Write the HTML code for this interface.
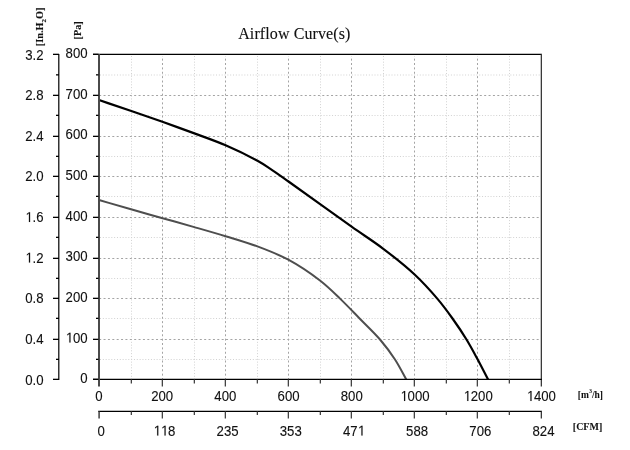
<!DOCTYPE html>
<html><head><meta charset="utf-8"><style>
html,body{margin:0;padding:0;background:#fff;width:630px;height:450px;overflow:hidden;}
body{position:relative;filter:grayscale(1);font-family:"Liberation Sans",sans-serif;}
</style></head><body>
<svg width="630" height="450" viewBox="0 0 630 450" style="position:absolute;left:0;top:0">
<line x1="131.5" y1="56" x2="131.5" y2="379" stroke="#d2d2d2" stroke-width="1" stroke-dasharray="1 1.83"/>
<line x1="194.5" y1="56" x2="194.5" y2="379" stroke="#d2d2d2" stroke-width="1" stroke-dasharray="1 1.83"/>
<line x1="257.5" y1="56" x2="257.5" y2="379" stroke="#d2d2d2" stroke-width="1" stroke-dasharray="1 1.83"/>
<line x1="320.5" y1="56" x2="320.5" y2="379" stroke="#d2d2d2" stroke-width="1" stroke-dasharray="1 1.83"/>
<line x1="383.5" y1="56" x2="383.5" y2="379" stroke="#d2d2d2" stroke-width="1" stroke-dasharray="1 1.83"/>
<line x1="446.5" y1="56" x2="446.5" y2="379" stroke="#d2d2d2" stroke-width="1" stroke-dasharray="1 1.83"/>
<line x1="509.5" y1="56" x2="509.5" y2="379" stroke="#d2d2d2" stroke-width="1" stroke-dasharray="1 1.83"/>
<line x1="100" y1="75.0" x2="540" y2="75.0" stroke="#d2d2d2" stroke-width="1" stroke-dasharray="1 1.83"/>
<line x1="100" y1="115.5" x2="540" y2="115.5" stroke="#d2d2d2" stroke-width="1" stroke-dasharray="1 1.83"/>
<line x1="100" y1="156.5" x2="540" y2="156.5" stroke="#d2d2d2" stroke-width="1" stroke-dasharray="1 1.83"/>
<line x1="100" y1="196.5" x2="540" y2="196.5" stroke="#d2d2d2" stroke-width="1" stroke-dasharray="1 1.83"/>
<line x1="100" y1="237.5" x2="540" y2="237.5" stroke="#d2d2d2" stroke-width="1" stroke-dasharray="1 1.83"/>
<line x1="100" y1="278.5" x2="540" y2="278.5" stroke="#d2d2d2" stroke-width="1" stroke-dasharray="1 1.83"/>
<line x1="100" y1="318.5" x2="540" y2="318.5" stroke="#d2d2d2" stroke-width="1" stroke-dasharray="1 1.83"/>
<line x1="100" y1="359.5" x2="540" y2="359.5" stroke="#d2d2d2" stroke-width="1" stroke-dasharray="1 1.83"/>
<line x1="162.5" y1="56" x2="162.5" y2="379" stroke="#a4a4a4" stroke-width="1" stroke-dasharray="2 2.375" stroke-dashoffset="1.75"/>
<line x1="225.5" y1="56" x2="225.5" y2="379" stroke="#a4a4a4" stroke-width="1" stroke-dasharray="2 2.375" stroke-dashoffset="1.75"/>
<line x1="288.5" y1="56" x2="288.5" y2="379" stroke="#a4a4a4" stroke-width="1" stroke-dasharray="2 2.375" stroke-dashoffset="1.75"/>
<line x1="351.5" y1="56" x2="351.5" y2="379" stroke="#a4a4a4" stroke-width="1" stroke-dasharray="2 2.375" stroke-dashoffset="1.75"/>
<line x1="414.5" y1="56" x2="414.5" y2="379" stroke="#a4a4a4" stroke-width="1" stroke-dasharray="2 2.375" stroke-dashoffset="1.75"/>
<line x1="477.5" y1="56" x2="477.5" y2="379" stroke="#a4a4a4" stroke-width="1" stroke-dasharray="2 2.375" stroke-dashoffset="1.75"/>
<line x1="100" y1="95.5" x2="540" y2="95.5" stroke="#a4a4a4" stroke-width="1" stroke-dasharray="2 2.375" stroke-dashoffset="0.815"/>
<line x1="100" y1="136.5" x2="540" y2="136.5" stroke="#a4a4a4" stroke-width="1" stroke-dasharray="2 2.375" stroke-dashoffset="0.815"/>
<line x1="100" y1="176.5" x2="540" y2="176.5" stroke="#a4a4a4" stroke-width="1" stroke-dasharray="2 2.375" stroke-dashoffset="0.815"/>
<line x1="100" y1="217.5" x2="540" y2="217.5" stroke="#a4a4a4" stroke-width="1" stroke-dasharray="2 2.375" stroke-dashoffset="0.815"/>
<line x1="100" y1="258.5" x2="540" y2="258.5" stroke="#a4a4a4" stroke-width="1" stroke-dasharray="2 2.375" stroke-dashoffset="0.815"/>
<line x1="100" y1="298.5" x2="540" y2="298.5" stroke="#a4a4a4" stroke-width="1" stroke-dasharray="2 2.375" stroke-dashoffset="0.815"/>
<line x1="100" y1="339.5" x2="540" y2="339.5" stroke="#a4a4a4" stroke-width="1" stroke-dasharray="2 2.375" stroke-dashoffset="0.815"/>
<path d="M99.00,200.00 C109.67,203.10 120.36,206.26 131.00,209.30 C141.56,212.32 152.06,215.24 162.60,218.20 C173.16,221.17 183.78,224.09 194.30,227.10 C204.75,230.09 215.06,233.01 225.50,236.20 C236.10,239.44 246.94,242.49 257.40,246.40 C267.88,250.32 278.15,254.22 288.30,259.70 C299.14,265.55 311.11,273.68 320.30,280.80 C328.01,286.77 333.78,292.65 340.30,298.90 C346.88,305.21 353.09,311.84 359.60,318.50 C366.32,325.37 373.92,332.39 380.00,339.50 C385.62,346.07 390.55,352.69 395.00,359.50 C399.27,366.03 402.53,372.83 406.30,379.50" fill="none" stroke="#4e4e4e" stroke-width="2.0"/>
<path d="M99.00,100.00 C109.53,103.60 120.05,107.17 130.60,110.80 C141.19,114.44 151.80,118.04 162.40,121.80 C173.06,125.58 183.82,129.46 194.40,133.40 C204.88,137.30 215.24,140.82 225.60,145.30 C236.28,149.92 249.40,156.32 257.50,160.80 C262.72,163.69 265.47,165.61 270.00,168.60 C275.61,172.30 280.52,175.86 288.50,181.50 C303.30,191.96 334.12,214.35 351.60,226.70 C363.93,235.42 372.92,240.94 383.30,248.80 C393.93,256.85 405.23,265.73 414.60,274.50 C423.11,282.47 430.84,291.05 437.50,298.90 C443.22,305.64 447.69,311.77 452.50,318.50 C457.36,325.30 462.22,332.50 466.50,339.50 C470.58,346.17 474.09,352.81 477.70,359.50 C481.28,366.14 484.63,372.83 488.10,379.50" fill="none" stroke="#000" stroke-width="2.2"/>
<line x1="93" y1="54.35" x2="541.9" y2="54.35" stroke="#000" stroke-width="1.3"/>
<line x1="541.35" y1="54" x2="541.35" y2="386.4" stroke="#3a3a3a" stroke-width="1.3"/>
<line x1="93" y1="379.35" x2="541.9" y2="379.35" stroke="#000" stroke-width="1.3"/>
<line x1="99" y1="54" x2="99" y2="386.4" stroke="#4a4a4a" stroke-width="2"/>
<line x1="93" y1="95.35" x2="98.5" y2="95.35" stroke="#000" stroke-width="1.3"/>
<line x1="93" y1="136.35" x2="98.5" y2="136.35" stroke="#000" stroke-width="1.3"/>
<line x1="93" y1="176.35" x2="98.5" y2="176.35" stroke="#000" stroke-width="1.3"/>
<line x1="93" y1="217.35" x2="98.5" y2="217.35" stroke="#000" stroke-width="1.3"/>
<line x1="93" y1="258.35" x2="98.5" y2="258.35" stroke="#000" stroke-width="1.3"/>
<line x1="93" y1="298.35" x2="98.5" y2="298.35" stroke="#000" stroke-width="1.3"/>
<line x1="93" y1="339.35" x2="98.5" y2="339.35" stroke="#000" stroke-width="1.3"/>
<line x1="96" y1="74.85" x2="98.5" y2="74.85" stroke="#000" stroke-width="1.3"/>
<line x1="96" y1="115.35" x2="98.5" y2="115.35" stroke="#000" stroke-width="1.3"/>
<line x1="96" y1="156.35" x2="98.5" y2="156.35" stroke="#000" stroke-width="1.3"/>
<line x1="96" y1="196.35" x2="98.5" y2="196.35" stroke="#000" stroke-width="1.3"/>
<line x1="96" y1="237.35" x2="98.5" y2="237.35" stroke="#000" stroke-width="1.3"/>
<line x1="96" y1="278.35" x2="98.5" y2="278.35" stroke="#000" stroke-width="1.3"/>
<line x1="96" y1="318.35" x2="98.5" y2="318.35" stroke="#000" stroke-width="1.3"/>
<line x1="96" y1="359.35" x2="98.5" y2="359.35" stroke="#000" stroke-width="1.3"/>
<line x1="93" y1="54.35" x2="98.5" y2="54.35" stroke="#000" stroke-width="1.3"/>
<line x1="93" y1="379.35" x2="98.5" y2="379.35" stroke="#000" stroke-width="1.3"/>
<line x1="162.35" y1="379.5" x2="162.35" y2="386.4" stroke="#444" stroke-width="1.3"/>
<line x1="225.35" y1="379.5" x2="225.35" y2="386.4" stroke="#444" stroke-width="1.3"/>
<line x1="288.35" y1="379.5" x2="288.35" y2="386.4" stroke="#444" stroke-width="1.3"/>
<line x1="351.35" y1="379.5" x2="351.35" y2="386.4" stroke="#444" stroke-width="1.3"/>
<line x1="414.35" y1="379.5" x2="414.35" y2="386.4" stroke="#444" stroke-width="1.3"/>
<line x1="477.35" y1="379.5" x2="477.35" y2="386.4" stroke="#444" stroke-width="1.3"/>
<line x1="131.35" y1="379.5" x2="131.35" y2="383.5" stroke="#444" stroke-width="1.3"/>
<line x1="194.35" y1="379.5" x2="194.35" y2="383.5" stroke="#444" stroke-width="1.3"/>
<line x1="257.35" y1="379.5" x2="257.35" y2="383.5" stroke="#444" stroke-width="1.3"/>
<line x1="320.35" y1="379.5" x2="320.35" y2="383.5" stroke="#444" stroke-width="1.3"/>
<line x1="383.35" y1="379.5" x2="383.35" y2="383.5" stroke="#444" stroke-width="1.3"/>
<line x1="446.35" y1="379.5" x2="446.35" y2="383.5" stroke="#444" stroke-width="1.3"/>
<line x1="509.35" y1="379.5" x2="509.35" y2="383.5" stroke="#444" stroke-width="1.3"/>
<line x1="58.75" y1="54" x2="58.75" y2="380" stroke="#333" stroke-width="1.5"/>
<line x1="53" y1="95.35" x2="59" y2="95.35" stroke="#000" stroke-width="1.3"/>
<line x1="53" y1="136.35" x2="59" y2="136.35" stroke="#000" stroke-width="1.3"/>
<line x1="53" y1="176.35" x2="59" y2="176.35" stroke="#000" stroke-width="1.3"/>
<line x1="53" y1="217.35" x2="59" y2="217.35" stroke="#000" stroke-width="1.3"/>
<line x1="53" y1="258.35" x2="59" y2="258.35" stroke="#000" stroke-width="1.3"/>
<line x1="53" y1="298.35" x2="59" y2="298.35" stroke="#000" stroke-width="1.3"/>
<line x1="53" y1="339.35" x2="59" y2="339.35" stroke="#000" stroke-width="1.3"/>
<line x1="56" y1="74.85" x2="59" y2="74.85" stroke="#000" stroke-width="1.3"/>
<line x1="56" y1="115.35" x2="59" y2="115.35" stroke="#000" stroke-width="1.3"/>
<line x1="56" y1="156.35" x2="59" y2="156.35" stroke="#000" stroke-width="1.3"/>
<line x1="56" y1="196.35" x2="59" y2="196.35" stroke="#000" stroke-width="1.3"/>
<line x1="56" y1="237.35" x2="59" y2="237.35" stroke="#000" stroke-width="1.3"/>
<line x1="56" y1="278.35" x2="59" y2="278.35" stroke="#000" stroke-width="1.3"/>
<line x1="56" y1="318.35" x2="59" y2="318.35" stroke="#000" stroke-width="1.3"/>
<line x1="56" y1="359.35" x2="59" y2="359.35" stroke="#000" stroke-width="1.3"/>
<line x1="53" y1="54.35" x2="59" y2="54.35" stroke="#000" stroke-width="1.3"/>
<line x1="53" y1="379.35" x2="59" y2="379.35" stroke="#000" stroke-width="1.3"/>
<line x1="98.2" y1="411.4" x2="541.9" y2="411.4" stroke="#000" stroke-width="1.3"/>
<line x1="99.1" y1="411.4" x2="99.1" y2="418.4" stroke="#4a4a4a" stroke-width="1.6"/>
<line x1="541.35" y1="411.4" x2="541.35" y2="418.4" stroke="#3a3a3a" stroke-width="1.3"/>
<line x1="162.35" y1="411.4" x2="162.35" y2="418.4" stroke="#444" stroke-width="1.3"/>
<line x1="225.35" y1="411.4" x2="225.35" y2="418.4" stroke="#444" stroke-width="1.3"/>
<line x1="288.35" y1="411.4" x2="288.35" y2="418.4" stroke="#444" stroke-width="1.3"/>
<line x1="351.35" y1="411.4" x2="351.35" y2="418.4" stroke="#444" stroke-width="1.3"/>
<line x1="414.35" y1="411.4" x2="414.35" y2="418.4" stroke="#444" stroke-width="1.3"/>
<line x1="477.35" y1="411.4" x2="477.35" y2="418.4" stroke="#444" stroke-width="1.3"/>
<line x1="131.35" y1="411.4" x2="131.35" y2="415" stroke="#444" stroke-width="1.3"/>
<line x1="194.35" y1="411.4" x2="194.35" y2="415" stroke="#444" stroke-width="1.3"/>
<line x1="257.35" y1="411.4" x2="257.35" y2="415" stroke="#444" stroke-width="1.3"/>
<line x1="320.35" y1="411.4" x2="320.35" y2="415" stroke="#444" stroke-width="1.3"/>
<line x1="383.35" y1="411.4" x2="383.35" y2="415" stroke="#444" stroke-width="1.3"/>
<line x1="446.35" y1="411.4" x2="446.35" y2="415" stroke="#444" stroke-width="1.3"/>
<line x1="509.35" y1="411.4" x2="509.35" y2="415" stroke="#444" stroke-width="1.3"/>
<g transform="translate(80.26,383.20) scale(1.015,1.1)"><text x="0" y="0" font-family="Liberation Sans, sans-serif" font-size="13" fill="#111" stroke="#111" stroke-width="0.1">0</text></g>
<g transform="translate(65.58,342.57) scale(1.015,1.1)"><text x="0" y="0" font-family="Liberation Sans, sans-serif" font-size="13" fill="#111" stroke="#111" stroke-width="0.1"> 00</text><path d="M3.71,0.00 L3.71,-7.85 L1.69,-6.41 L1.69,-7.49 L3.81,-8.94 L4.86,-8.94 L4.86,0.00Z" fill="#111" stroke="#111" stroke-width="0.1"/></g>
<g transform="translate(65.58,301.95) scale(1.015,1.1)"><text x="0" y="0" font-family="Liberation Sans, sans-serif" font-size="13" fill="#111" stroke="#111" stroke-width="0.1">200</text></g>
<g transform="translate(65.58,261.32) scale(1.015,1.1)"><text x="0" y="0" font-family="Liberation Sans, sans-serif" font-size="13" fill="#111" stroke="#111" stroke-width="0.1">300</text></g>
<g transform="translate(65.58,220.70) scale(1.015,1.1)"><text x="0" y="0" font-family="Liberation Sans, sans-serif" font-size="13" fill="#111" stroke="#111" stroke-width="0.1">400</text></g>
<g transform="translate(65.58,180.07) scale(1.015,1.1)"><text x="0" y="0" font-family="Liberation Sans, sans-serif" font-size="13" fill="#111" stroke="#111" stroke-width="0.1">500</text></g>
<g transform="translate(65.58,139.45) scale(1.015,1.1)"><text x="0" y="0" font-family="Liberation Sans, sans-serif" font-size="13" fill="#111" stroke="#111" stroke-width="0.1">600</text></g>
<g transform="translate(65.58,98.83) scale(1.015,1.1)"><text x="0" y="0" font-family="Liberation Sans, sans-serif" font-size="13" fill="#111" stroke="#111" stroke-width="0.1">700</text></g>
<g transform="translate(65.58,58.20) scale(1.015,1.1)"><text x="0" y="0" font-family="Liberation Sans, sans-serif" font-size="13" fill="#111" stroke="#111" stroke-width="0.1">800</text></g>
<g transform="translate(25.16,384.50) scale(1.015,1.1)"><text x="0" y="0" font-family="Liberation Sans, sans-serif" font-size="13" fill="#111" stroke="#111" stroke-width="0.1">0.0</text></g>
<g transform="translate(25.16,343.88) scale(1.015,1.1)"><text x="0" y="0" font-family="Liberation Sans, sans-serif" font-size="13" fill="#111" stroke="#111" stroke-width="0.1">0.4</text></g>
<g transform="translate(25.16,303.25) scale(1.015,1.1)"><text x="0" y="0" font-family="Liberation Sans, sans-serif" font-size="13" fill="#111" stroke="#111" stroke-width="0.1">0.8</text></g>
<g transform="translate(25.16,262.62) scale(1.015,1.1)"><text x="0" y="0" font-family="Liberation Sans, sans-serif" font-size="13" fill="#111" stroke="#111" stroke-width="0.1"> .2</text><path d="M3.71,0.00 L3.71,-7.85 L1.69,-6.41 L1.69,-7.49 L3.81,-8.94 L4.86,-8.94 L4.86,0.00Z" fill="#111" stroke="#111" stroke-width="0.1"/></g>
<g transform="translate(25.16,222.00) scale(1.015,1.1)"><text x="0" y="0" font-family="Liberation Sans, sans-serif" font-size="13" fill="#111" stroke="#111" stroke-width="0.1"> .6</text><path d="M3.71,0.00 L3.71,-7.85 L1.69,-6.41 L1.69,-7.49 L3.81,-8.94 L4.86,-8.94 L4.86,0.00Z" fill="#111" stroke="#111" stroke-width="0.1"/></g>
<g transform="translate(25.16,181.38) scale(1.015,1.1)"><text x="0" y="0" font-family="Liberation Sans, sans-serif" font-size="13" fill="#111" stroke="#111" stroke-width="0.1">2.0</text></g>
<g transform="translate(25.16,140.75) scale(1.015,1.1)"><text x="0" y="0" font-family="Liberation Sans, sans-serif" font-size="13" fill="#111" stroke="#111" stroke-width="0.1">2.4</text></g>
<g transform="translate(25.16,100.12) scale(1.015,1.1)"><text x="0" y="0" font-family="Liberation Sans, sans-serif" font-size="13" fill="#111" stroke="#111" stroke-width="0.1">2.8</text></g>
<g transform="translate(25.16,59.50) scale(1.015,1.1)"><text x="0" y="0" font-family="Liberation Sans, sans-serif" font-size="13" fill="#111" stroke="#111" stroke-width="0.1">3.2</text></g>
<g transform="translate(95.33,400.90) scale(1.015,1.1)"><text x="0" y="0" font-family="Liberation Sans, sans-serif" font-size="13" fill="#111" stroke="#111" stroke-width="0.1">0</text></g>
<g transform="translate(151.18,400.90) scale(1.015,1.1)"><text x="0" y="0" font-family="Liberation Sans, sans-serif" font-size="13" fill="#111" stroke="#111" stroke-width="0.1">200</text></g>
<g transform="translate(214.36,400.90) scale(1.015,1.1)"><text x="0" y="0" font-family="Liberation Sans, sans-serif" font-size="13" fill="#111" stroke="#111" stroke-width="0.1">400</text></g>
<g transform="translate(277.55,400.90) scale(1.015,1.1)"><text x="0" y="0" font-family="Liberation Sans, sans-serif" font-size="13" fill="#111" stroke="#111" stroke-width="0.1">600</text></g>
<g transform="translate(340.74,400.90) scale(1.015,1.1)"><text x="0" y="0" font-family="Liberation Sans, sans-serif" font-size="13" fill="#111" stroke="#111" stroke-width="0.1">800</text></g>
<g transform="translate(400.25,400.90) scale(1.015,1.1)"><text x="0" y="0" font-family="Liberation Sans, sans-serif" font-size="13" fill="#111" stroke="#111" stroke-width="0.1"> 000</text><path d="M3.71,0.00 L3.71,-7.85 L1.69,-6.41 L1.69,-7.49 L3.81,-8.94 L4.86,-8.94 L4.86,0.00Z" fill="#111" stroke="#111" stroke-width="0.1"/></g>
<g transform="translate(463.44,400.90) scale(1.015,1.1)"><text x="0" y="0" font-family="Liberation Sans, sans-serif" font-size="13" fill="#111" stroke="#111" stroke-width="0.1"> 200</text><path d="M3.71,0.00 L3.71,-7.85 L1.69,-6.41 L1.69,-7.49 L3.81,-8.94 L4.86,-8.94 L4.86,0.00Z" fill="#111" stroke="#111" stroke-width="0.1"/></g>
<g transform="translate(526.62,400.90) scale(1.015,1.1)"><text x="0" y="0" font-family="Liberation Sans, sans-serif" font-size="13" fill="#111" stroke="#111" stroke-width="0.1"> 400</text><path d="M3.71,0.00 L3.71,-7.85 L1.69,-6.41 L1.69,-7.49 L3.81,-8.94 L4.86,-8.94 L4.86,0.00Z" fill="#111" stroke="#111" stroke-width="0.1"/></g>
<g transform="translate(97.53,435.60) scale(1.015,1.1)"><text x="0" y="0" font-family="Liberation Sans, sans-serif" font-size="13" fill="#111" stroke="#111" stroke-width="0.1">0</text></g>
<g transform="translate(153.38,435.60) scale(1.015,1.1)"><text x="0" y="0" font-family="Liberation Sans, sans-serif" font-size="13" fill="#111" stroke="#111" stroke-width="0.1">  8</text><path d="M3.71,0.00 L3.71,-7.85 L1.69,-6.41 L1.69,-7.49 L3.81,-8.94 L4.86,-8.94 L4.86,0.00Z" fill="#111" stroke="#111" stroke-width="0.1"/><path d="M10.94,0.00 L10.94,-7.85 L8.92,-6.41 L8.92,-7.49 L11.04,-8.94 L12.09,-8.94 L12.09,0.00Z" fill="#111" stroke="#111" stroke-width="0.1"/></g>
<g transform="translate(216.56,435.60) scale(1.015,1.1)"><text x="0" y="0" font-family="Liberation Sans, sans-serif" font-size="13" fill="#111" stroke="#111" stroke-width="0.1">235</text></g>
<g transform="translate(279.75,435.60) scale(1.015,1.1)"><text x="0" y="0" font-family="Liberation Sans, sans-serif" font-size="13" fill="#111" stroke="#111" stroke-width="0.1">353</text></g>
<g transform="translate(342.94,435.60) scale(1.015,1.1)"><text x="0" y="0" font-family="Liberation Sans, sans-serif" font-size="13" fill="#111" stroke="#111" stroke-width="0.1">47 </text><path d="M18.17,0.00 L18.17,-7.85 L16.15,-6.41 L16.15,-7.49 L18.27,-8.94 L19.32,-8.94 L19.32,0.00Z" fill="#111" stroke="#111" stroke-width="0.1"/></g>
<g transform="translate(406.12,435.60) scale(1.015,1.1)"><text x="0" y="0" font-family="Liberation Sans, sans-serif" font-size="13" fill="#111" stroke="#111" stroke-width="0.1">588</text></g>
<g transform="translate(469.31,435.60) scale(1.015,1.1)"><text x="0" y="0" font-family="Liberation Sans, sans-serif" font-size="13" fill="#111" stroke="#111" stroke-width="0.1">706</text></g>
<g transform="translate(532.49,435.60) scale(1.015,1.1)"><text x="0" y="0" font-family="Liberation Sans, sans-serif" font-size="13" fill="#111" stroke="#111" stroke-width="0.1">824</text></g>
<text x="238.2" y="38.6" font-family="Liberation Serif, serif" font-size="16" letter-spacing="0.1" fill="#111" stroke="#111" stroke-width="0.12">Airflow Curve(s)</text>
<text transform="translate(42.5,46.2) rotate(-90)" font-family="Liberation Serif, serif" font-weight="bold" font-size="10.3" fill="#111" stroke="#111" stroke-width="0.1">[In.H<tspan font-size="7" dy="3.6">2</tspan><tspan dy="-3.6">O]</tspan></text>
<text transform="translate(81.1,39.5) rotate(-90)" font-family="Liberation Serif, serif" font-weight="bold" font-size="10.3" fill="#111" stroke="#111" stroke-width="0.1">[Pa]</text>
<text x="577.8" y="398" font-family="Liberation Serif, serif" font-weight="bold" font-size="9.5" fill="#111" stroke="#111" stroke-width="0.05">[m<tspan font-size="6" dy="-4.8" stroke-width="0">3</tspan><tspan dy="4.8">/h]</tspan></text>
<text x="572.8" y="429.9" font-family="Liberation Serif, serif" font-weight="bold" font-size="10" fill="#111" stroke="#111" stroke-width="0.05">[CFM]</text>
</svg>
</body></html>
